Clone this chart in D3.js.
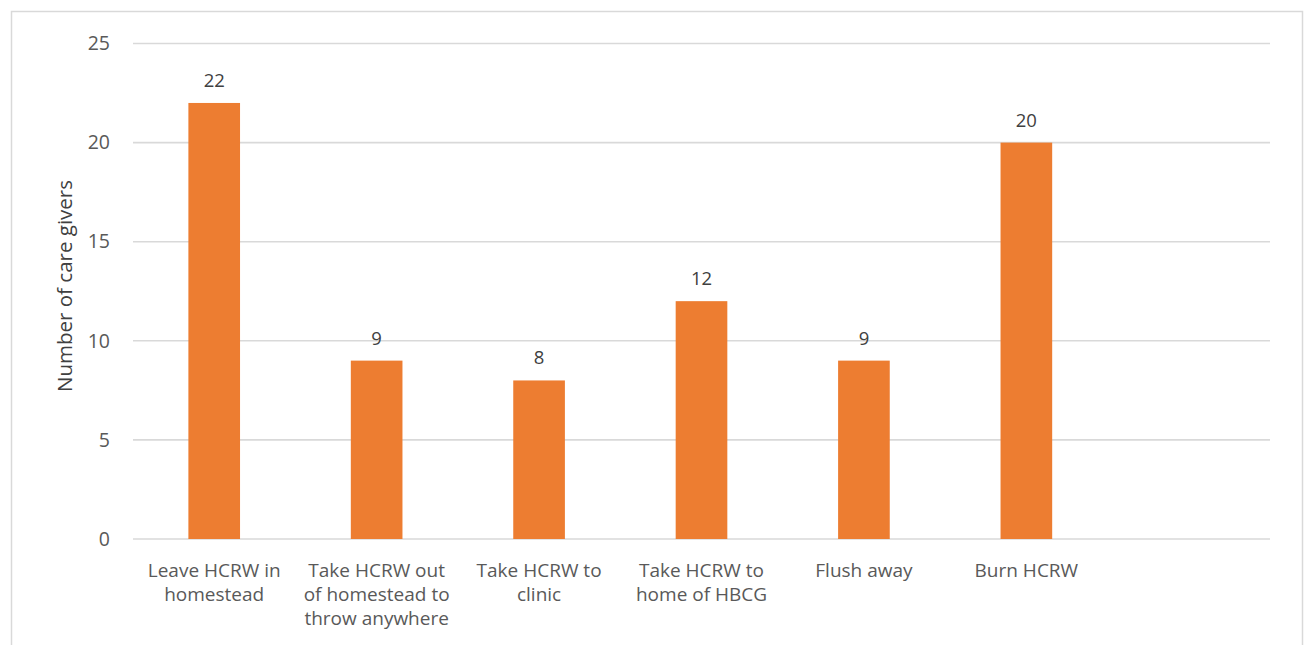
<!DOCTYPE html>
<html>
<head>
<meta charset="utf-8">
<script src="https://cdn.jsdelivr.net/npm/d3@7"></script>
<style>
  html, body { margin: 0; padding: 0; background: #fff; }
  svg { display: block; font-family: "Open Sans", "Noto Sans", sans-serif; }
</style>
</head>
<body>
<svg id="chart" width="1305" height="645"></svg>
<script>
// Disposal methods for health-care-related waste (HCRW); the last slot is empty
const categories = [
  "Leave HCRW in\nhomestead",
  "Take HCRW out\nof homestead to\nthrow anywhere",
  "Take HCRW to\nclinic",
  "Take HCRW to\nhome of HBCG",
  "Flush away",
  "Burn HCRW",
  ""
];
const counts = [22, 9, 8, 12, 9, 20, null];
const yTicks = [0, 5, 10, 15, 20, 25];
const yTitle = "Number of care givers";

const svg = d3.select("#chart");
const W = 1305, H = 645;
const plot = { left: 133, right: 1270, top: 43.5, bottom: 539 };

// outer frame (open at the bottom)
svg.append("path")
  .attr("d", `M11.5,${H} L11.5,11.5 L1302.5,11.5 L1302.5,${H}`)
  .attr("fill", "none")
  .attr("stroke", "#d9d9d9")
  .attr("stroke-width", 1.5);

const x = d3.scaleBand()
  .domain(d3.range(categories.length))
  .range([plot.left, plot.right])
  .paddingInner(0.682)
  .paddingOuter(0.341);

const y = d3.scaleLinear()
  .domain([0, 25])
  .range([plot.bottom, plot.top]);

// horizontal gridlines
svg.append("g")
  .selectAll("line")
  .data(yTicks)
  .join("line")
  .attr("x1", plot.left)
  .attr("x2", plot.right)
  .attr("y1", d => y(d))
  .attr("y2", d => y(d))
  .attr("stroke", "#d9d9d9")
  .attr("stroke-width", 1.6);

// y axis tick labels
const yAxis = d3.axisLeft(y).tickValues(yTicks).tickSize(0).tickPadding(0);
svg.append("g")
  .attr("transform", `translate(110,0)`)
  .call(yAxis)
  .call(g => g.select(".domain").remove())
  .call(g => g.selectAll("text")
    .attr("fill", "#595959")
    .attr("font-size", 19.5)
    .attr("font-family", "\"Open Sans\", sans-serif"));

// y axis title
svg.append("text")
  .attr("transform", `translate(72,286) rotate(-90)`)
  .attr("text-anchor", "middle")
  .attr("fill", "#404040")
  .attr("font-size", 20.5)
  .text(yTitle);

const data = categories.map((c, i) => ({ i, c, v: counts[i] }));

// bars
svg.append("g")
  .selectAll("rect")
  .data(data.filter(d => d.v != null))
  .join("rect")
  .attr("x", d => x(d.i))
  .attr("width", x.bandwidth())
  .attr("y", d => y(d.v))
  .attr("height", d => y(0) - y(d.v))
  .attr("fill", "#ED7D31");

// value labels
svg.append("g")
  .selectAll("text")
  .data(data.filter(d => d.v != null))
  .join("text")
  .attr("x", d => x(d.i) + x.bandwidth() / 2)
  .attr("y", d => y(d.v) - 16)
  .attr("text-anchor", "middle")
  .attr("fill", "#404040")
  .attr("font-size", 18.5)
  .text(d => d.v);

// category labels, one tspan per line
const cat = svg.append("g")
  .selectAll("text")
  .data(data)
  .join("text")
  .attr("text-anchor", "middle")
  .attr("fill", "#595959")
  .attr("font-size", 19)
  .attr("transform", d => `translate(${x(d.i) + x.bandwidth() / 2},577)`);
cat.selectAll("tspan")
  .data(d => d.c ? d.c.split("\n") : [])
  .join("tspan")
  .attr("x", 0)
  .attr("y", (l, j) => j * 24)
  .text(l => l);
</script>
</body>
</html>
